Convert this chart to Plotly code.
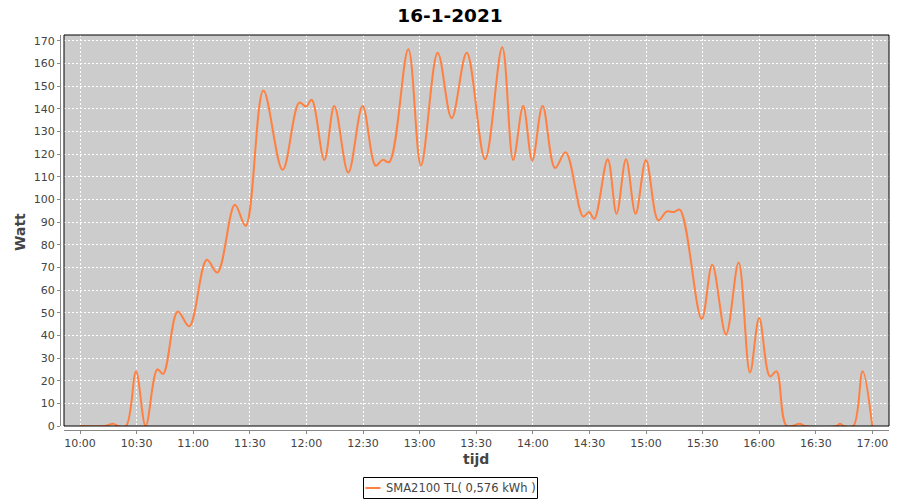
import plotly.graph_objects as go
from datetime import datetime, timedelta

# ---- data ----
times = [
    "10:00:00", "10:13:18", "10:17:36", "10:20:06", "10:24:24", "10:29:42",
    "10:34:48", "10:41:00", "10:44:06", "10:51:48", "10:57:54", "11:07:12",
    "11:12:48", "11:22:06", "11:27:48", "11:37:12", "11:47:24", "11:56:12",
    "11:59:48", "12:02:48", "12:09:30", "12:14:48", "12:22:12", "12:29:48",
    "12:36:42", "12:40:24", "12:43:54", "12:54:00", "13:00:42", "13:09:36",
    "13:17:00", "13:25:00", "13:34:42", "13:43:48", "13:49:36", "13:54:54",
    "13:59:42", "14:05:12", "14:11:48", "14:17:24", "14:26:42", "14:29:48",
    "14:32:36", "14:39:42", "14:44:24", "14:49:24", "14:54:30", "15:00:00",
    "15:06:30", "15:10:54", "15:14:48", "15:18:00", "15:29:30", "15:35:06",
    "15:42:24", "15:49:06", "15:55:06", "16:00:00", "16:05:42", "16:09:12",
    "16:14:36", "16:21:36", "16:24:18", "16:41:00", "16:42:48", "16:44:54",
    "16:49:54", "16:54:48", "16:59:54",
]
watt = [
    0, 0, 1, 0, 0, 24,
    0, 25, 23, 50.5, 44, 73.3,
    67.7, 97.6, 88.3, 148, 113, 142.7,
    141, 143.9, 117.4, 141.2, 111.8, 141.2,
    114.8, 117.4, 116.4, 166.2, 115, 164.7,
    135.8, 164.7, 117.7, 167.1, 117.4, 141.2,
    117.1, 141.2, 113.8, 120.8, 92.4, 94.4,
    91.4, 117.7, 93.6, 117.7, 93.6, 117.4,
    90.7, 94.6, 94.4, 95.4, 47.2, 71.1,
    40.3, 72.1, 23.6, 47.6, 21.9, 24.1,
    0, 1, 0, 0, 1, 0,
    0, 24.1, 0,
]
y_ticks = list(range(0, 171, 10))
x_tick_labels = ["10:00", "10:30", "11:00", "11:30", "12:00", "12:30", "13:00",
                 "13:30", "14:00", "14:30", "15:00", "15:30", "16:00", "16:30", "17:00"]
title_text = "16-1-2021"
series_name = "SMA2100 TL( 0,576 kWh )"

day = "2021-01-16 "
xs = [day + t for t in times]
tickvals = [day + t + ":00" for t in x_tick_labels]

# the page body has an 8px margin, so the figure is drawn 8px in from the window corner
OFF = 8
W, H = 892, 492
ML, MR, MT, MB = 52, 11, 27, 70
PW = W - ML - MR
PH = H - MT - MB

def px_x(p):
    return (p - OFF - ML) / PW

def px_y(p):
    return (H - MB - (p - OFF)) / PH

FONT = "DejaVu Sans"
ORANGE = "#FF8040"
TXT = "#444444"
AX = "#888888"

fig = go.Figure()
fig.add_trace(go.Scatter(
    x=xs, y=watt, mode="lines", name=series_name,
    line=dict(color=ORANGE, width=2, shape="spline", smoothing=1.0),
    showlegend=False,
))

x0 = datetime(2021, 1, 16, 10, 0) - timedelta(minutes=8.48)
x1 = datetime(2021, 1, 16, 10, 0) + timedelta(minutes=428.8)

fig.update_layout(
    width=W, height=H,
    margin=dict(l=ML, r=MR, t=MT, b=MB, autoexpand=False),
    paper_bgcolor="white",
    plot_bgcolor="#CCCCCC",
    font=dict(family=FONT, size=11, color=TXT),
    title=dict(text="<b>" + title_text + "</b>", x=(450 - OFF) / W, xref="container",
               y=1 - (16 - OFF) / H, yref="container", yanchor="middle", xanchor="center",
               font=dict(family=FONT, size=18.5, color="black")),
    xaxis=dict(
        domain=[4 / PW, 1], anchor="free", position=0,
        type="date", range=[x0, x1], automargin=False,
        tickvals=tickvals, ticktext=x_tick_labels,
        showline=True, linecolor=AX, linewidth=1,
        ticks="outside", ticklen=3, tickcolor=AX,
        showgrid=True, gridcolor="white", griddash="2px,2px", gridwidth=1,
        zeroline=False,
        tickfont=dict(family=FONT, size=11, color=TXT),
    ),
    yaxis=dict(
        domain=[4 / PH, 1], anchor="free", position=0,
        range=[0, 172.5], tickvals=y_ticks, automargin=False,
        showline=True, linecolor=AX, linewidth=1,
        ticks="outside", ticklen=3, tickcolor=AX,
        showgrid=True, gridcolor="white", griddash="2px,2px", gridwidth=1,
        zeroline=False,
        tickfont=dict(family=FONT, size=11, color=TXT),
    ),
)

# axis titles
fig.add_annotation(xref="paper", yref="paper", x=px_x(476), y=px_y(459),
                   text="<b>tijd</b>", showarrow=False, xanchor="center", yanchor="middle",
                   font=dict(family=FONT, size=14, color=TXT))
fig.add_annotation(xref="paper", yref="paper", x=px_x(20), y=px_y(232),
                   text="<b>Watt</b>", showarrow=False, textangle=-90,
                   xanchor="center", yanchor="middle",
                   font=dict(family=FONT, size=14, color=TXT))

# plot outline (black)
fig.add_shape(type="rect", xref="paper", yref="paper",
              x0=4 / PW, x1=1, y0=4 / PH, y1=1,
              line=dict(color="black", width=1), layer="above")

# legend box drawn manually
fig.add_shape(type="rect", xref="paper", yref="paper",
              x0=px_x(363.5), x1=px_x(537.5), y0=px_y(498.5), y1=px_y(477.5),
              line=dict(color="black", width=1), fillcolor="white")
fig.add_shape(type="line", xref="paper", yref="paper",
              x0=px_x(365.5), x1=px_x(380.5), y0=px_y(488), y1=px_y(488),
              line=dict(color=ORANGE, width=2))
fig.add_annotation(xref="paper", yref="paper", x=px_x(384), y=px_y(488),
                   text=series_name, showarrow=False, xanchor="left", yanchor="middle",
                   font=dict(family=FONT, size=11.5, color=TXT))

fig.write_html("out.html")
